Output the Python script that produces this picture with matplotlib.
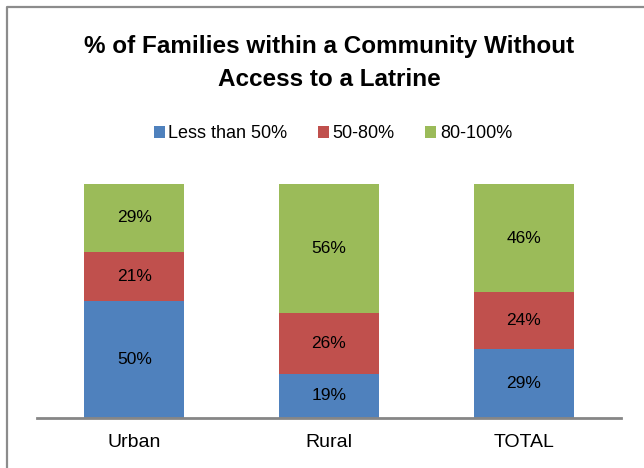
import numpy as np
import matplotlib
matplotlib.use("Agg")
import matplotlib.pyplot as plt
from matplotlib.patches import Patch
from matplotlib.lines import Line2D

plt.rcParams['font.family'] = ['Liberation Sans Narrow', 'Liberation Sans', 'DejaVu Sans']

# share of communities by group
categories = ["Urban", "Rural", "TOTAL"]
series_names = ["Less than 50%", "50-80%", "80-100%"]
less_50 = [50, 19, 29]
mid_50_80 = [21, 26, 24]
high_80_100 = [29, 56, 46]
colors = ["#4F81BD", "#C0504D", "#9BBB59"]

W, H = 644, 468
fig = plt.figure(figsize=(W / 100, H / 100), dpi=100)
ax = fig.add_axes([37 / W, 50.5 / H, (621 - 37) / W, (417.5 - 184) / H])

series = [less_50, mid_50_80, high_80_100]
vals = np.array(series, dtype=float)
totals = vals.sum(axis=0)
x = np.arange(len(categories))
bottom = np.zeros(len(categories))
for name, row, col in zip(series_names, vals, colors):
    share = row / totals
    ax.bar(x, share, 0.514, bottom=bottom, color=col, label=name, zorder=2)
    for xi, b, s, v in zip(x, bottom, share, row):
        ax.text(xi, b + s / 2, f"{int(v)}%", ha='center', va='center',
                fontsize=12.5, color='black')
    bottom += share

ax.set_xlim(-0.5, 2.5)
ax.set_ylim(0, 1)
ax.set_yticks([])
ax.set_xticks(x)
ax.set_xticklabels(categories, fontsize=14)
ax.tick_params(axis='x', length=0, pad=12)
for s in ['top', 'right', 'left']:
    ax.spines[s].set_visible(False)
ax.spines['bottom'].set_color('#868686')
ax.spines['bottom'].set_linewidth(2)
ax.spines['bottom'].set_zorder(3)

fig.text(329 / W, 1 - 46 / H, "% of Families within a Community Without",
         ha='center', va='center', fontsize=17.5, fontweight='bold')
fig.text(329 / W, 1 - 79 / H, "Access to a Latrine",
         ha='center', va='center', fontsize=17.5, fontweight='bold')

handles = [Patch(facecolor=c, edgecolor='none') for c in colors]
fig.legend(handles, series_names, loc='center', bbox_to_anchor=(333 / W, 1 - 134 / H),
           ncol=3, frameon=False, fontsize=13, handlelength=0.6, handleheight=0.6,
           handletextpad=0.2, columnspacing=1.7)

# outer chart border (left and top edges)
fig.add_artist(Line2D([7 / W, 7 / W, 1], [0, 1 - 7 / H, 1 - 7 / H],
                      transform=fig.transFigure, color='#8c8c8c', lw=1.6))

fig.savefig("out.png", dpi=100)
